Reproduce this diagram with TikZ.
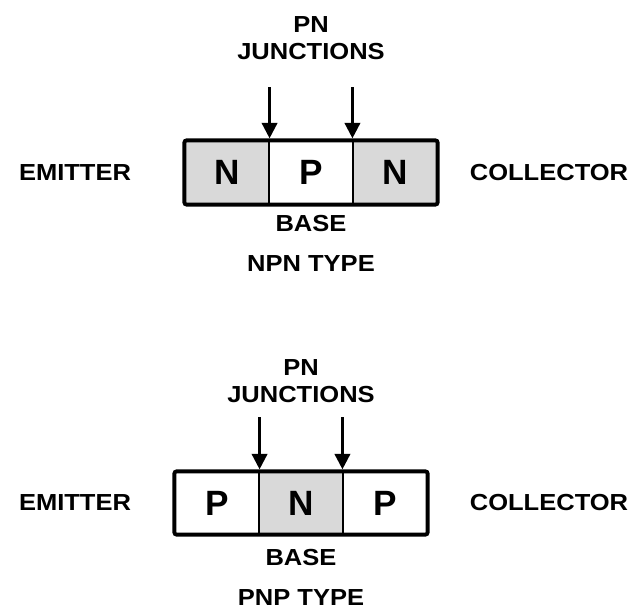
\documentclass[tikz,border=0pt]{standalone}
\usepackage{fontspec}
\setmainfont{Liberation Sans}
\usetikzlibrary{arrows.meta}

\tikzset{
    cell/.style={
           rectangle,
           draw=black, line width=0.8pt,
           minimum width=2.1cm, minimum height=1.575cm,
           inner sep=0pt,
           font=\bfseries\fontsize{25}{25}\selectfont,
           },
    ncell/.style={cell, fill=black!15},
    pcell/.style={cell, fill=white},
    lbl/.style={
           font=\bfseries\fontsize{16.5}{17}\selectfont,
           xscale=1.1, transform shape,
           inner sep=0pt,
           },
    outline/.style={draw=black, line width=2.8pt, rounded corners=1.5pt},
    junction/.style={-{Triangle[width=11pt,length=11pt]}, line width=1.8pt},
}

\begin{document}
\begin{tikzpicture}
       \useasboundingbox (0,0) rectangle (16.05,15.225);

       % NPN
       \node[pcell] (NMID) at (7.775,10.9125) {P};
       \node[ncell] (NLEFT) at ([xshift=-2.1cm]NMID.center) {N};
       \node[ncell] (NRIGHT) at ([xshift=2.1cm]NMID.center) {N};
       \draw[outline] (NLEFT.north west) rectangle (NRIGHT.south east);

       \node[lbl] (NJUNC) at ([yshift=2.225cm]NMID.north) {JUNCTIONS};
       \node[lbl] (NPN) at ([yshift=0.675cm]NJUNC.center) {PN};
       \node[lbl] (NBASE) at ([yshift=-0.475cm]NMID.south) {BASE};
       \node[lbl] (NTYPE) at ([yshift=-1.0cm]NBASE.center) {NPN TYPE};
       \node[lbl] (NEMIT) at (1.875,0 |- NMID) {EMITTER};
       \node[lbl] (NCOLL) at (13.725,0 |- NMID) {COLLECTOR};

       \coordinate (NJ1) at ([yshift=1.325cm]NLEFT.north east);
       \coordinate (NJ2) at ([yshift=1.325cm]NRIGHT.north west);
       \draw[junction] (NJ1) -- ([yshift=1.5pt]NLEFT.north east);
       \draw[junction] (NJ2) -- ([yshift=1.5pt]NRIGHT.north west);

       % PNP
       \node[ncell, minimum height=1.55cm] (PMID) at (7.525,2.65) {N};
       \node[pcell, minimum height=1.55cm] (PLEFT) at ([xshift=-2.1cm]PMID.center) {P};
       \node[pcell, minimum height=1.55cm] (PRIGHT) at ([xshift=2.1cm]PMID.center) {P};
       \draw[outline] (PLEFT.north west) rectangle (PRIGHT.south east);

       \node[lbl] (PJUNC) at ([yshift=1.925cm]PMID.north) {JUNCTIONS};
       \node[lbl] (PPN) at ([yshift=0.675cm]PJUNC.center) {PN};
       \node[lbl] (PBASE) at ([yshift=-0.575cm]PMID.south) {BASE};
       \node[lbl] (PTYPE) at ([yshift=-1.0cm]PBASE.center) {PNP TYPE};
       \node[lbl] (PEMIT) at (1.875,0 |- PMID) {EMITTER};
       \node[lbl] (PCOLL) at (13.725,0 |- PMID) {COLLECTOR};

       \coordinate (PJ1) at ([yshift=1.35cm]PLEFT.north east);
       \coordinate (PJ2) at ([yshift=1.35cm]PRIGHT.north west);
       \draw[junction] (PJ1) -- ([yshift=1.5pt]PLEFT.north east);
       \draw[junction] (PJ2) -- ([yshift=1.5pt]PRIGHT.north west);
\end{tikzpicture}
\end{document}
